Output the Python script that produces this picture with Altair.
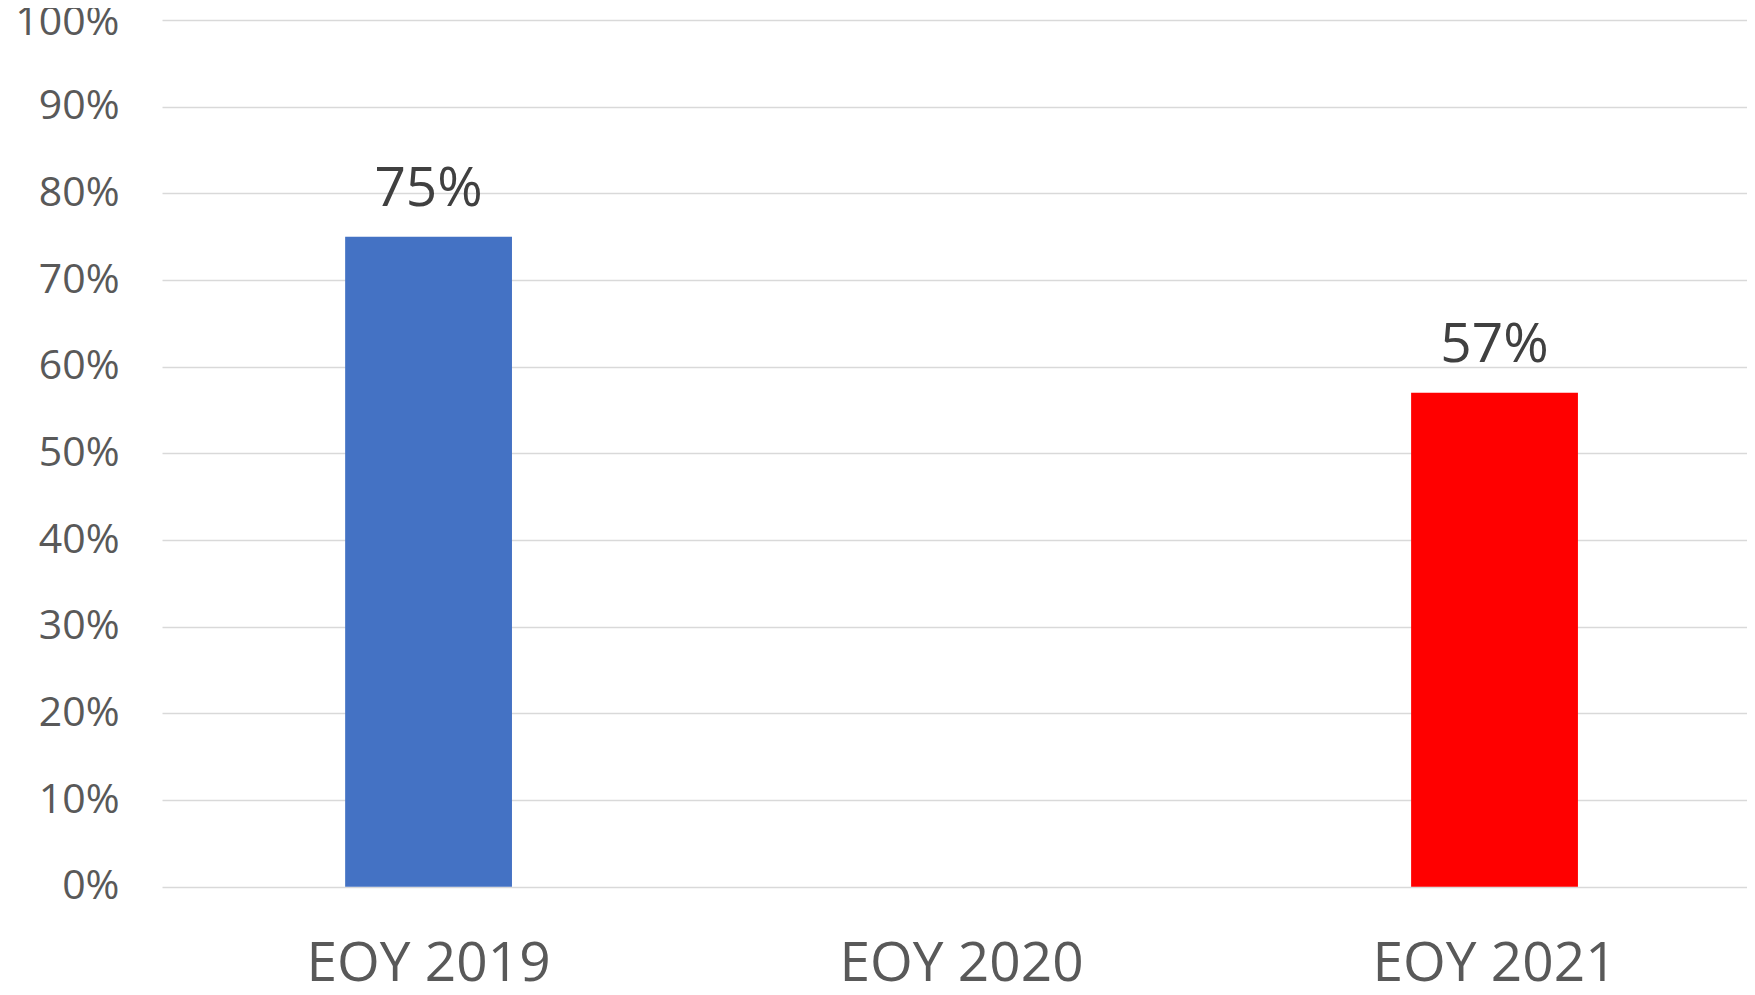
import altair as alt
import pandas as pd

categories = ["EOY 2019", "EOY 2020", "EOY 2021"]
values = [0.75, None, 0.57]
bar_colors = ["#4472C4", "#FFFFFF", "#FF0000"]
y_ticks = [0, 0.1, 0.2, 0.3, 0.4, 0.5, 0.6, 0.7, 0.8, 0.9, 1.0]

df = pd.DataFrame({"cat": categories, "val": values})

FONT = "Open Sans"

x = alt.X(
    "cat:N",
    sort=categories,
    scale=alt.Scale(paddingInner=0.687, paddingOuter=0.3304, align=0.52),
    axis=alt.Axis(
        title=None, labelAngle=0, domain=False, ticks=False, grid=False,
        labelFontSize=55, labelColor="#595959", labelFont=FONT,
        labelPadding=51, labelLimit=0,
    ),
)
y = alt.Y(
    "val:Q",
    scale=alt.Scale(domain=[0, 1], nice=False),
    axis=alt.Axis(
        title=None, values=y_ticks, format=".0%", domain=False, ticks=False,
        gridColor="#d9d9d9", gridWidth=1.5,
        labelFontSize=41, labelColor="#595959", labelFont=FONT,
        labelPadding=43,
        labelOffset=alt.ExprRef(expr="datum.value == 1 ? 3 : 0"),
    ),
)

bars = alt.Chart(df).mark_bar().encode(
    x=x,
    y=y,
    color=alt.Color("cat:N", scale=alt.Scale(domain=categories, range=bar_colors), legend=None),
)

text = alt.Chart(df).transform_filter("datum.val != null").mark_text(
    baseline="alphabetic", dy=-31, fontSize=55, color="#404040", font=FONT
).encode(
    x=alt.X("cat:N", sort=categories),
    y=alt.Y("val:Q"),
    text=alt.Text("val:Q", format=".0%"),
)

chart = (bars + text).properties(
    width=1585,
    height=866.7,
    autosize=alt.AutoSizeParams(type="none"),
    padding={"left": 154, "top": 12, "right": 0, "bottom": 100},
).configure_view(stroke=None)

chart.save("out.html", embed_options={"renderer": "svg", "actions": False})
